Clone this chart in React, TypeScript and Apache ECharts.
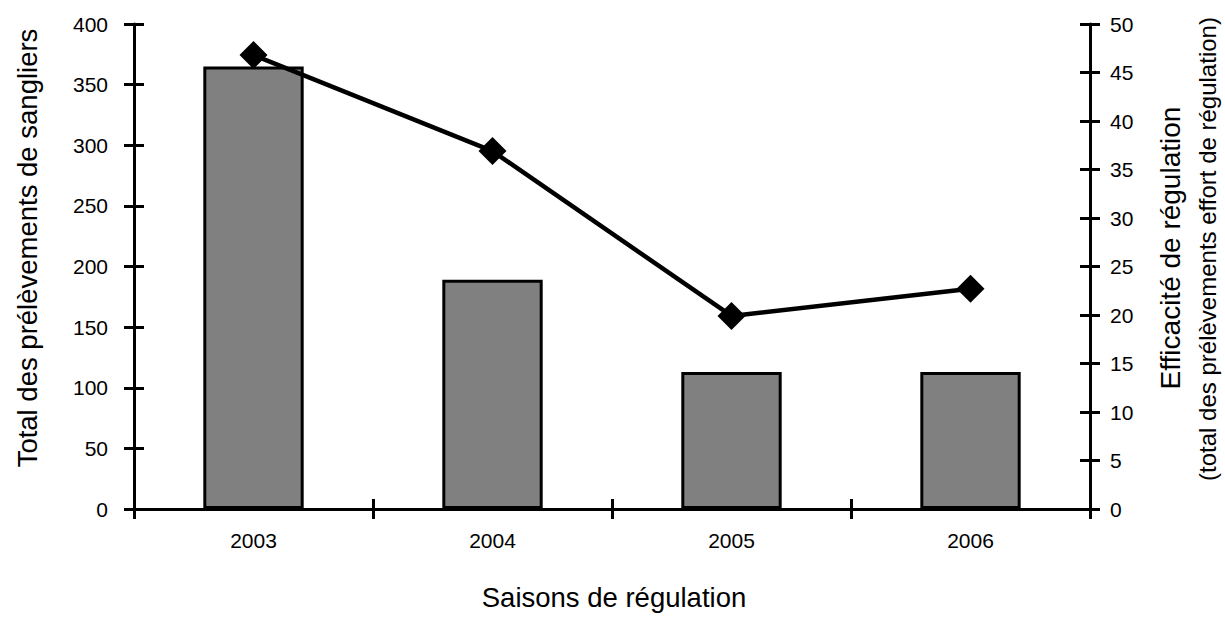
import React, { useEffect, useRef } from "react";
import * as echarts from "echarts";

const categories = ["2003", "2004", "2005", "2006"];
const totalPrelevements = [365, 189, 113, 113];
const efficacite = [46.8, 36.9, 19.9, 22.7];
const leftTitle = "Total des prélèvements de sangliers";
const rightTitle1 = "Efficacité de régulation";
const rightTitle2 = "(total des prélèvements effort de régulation)";
const xTitle = "Saisons de régulation";

const FONT = "'Liberation Sans', Arial, Helvetica, sans-serif";

export default function App() {
  const ref = useRef<HTMLDivElement>(null);
  useEffect(() => {
    if (!ref.current) return;
    const chart = echarts.init(ref.current, undefined, { renderer: "svg" });
    const lineStyle = { color: "#000", width: 3 };
    const tickStyle = { color: "#000", width: 3 };
    const label = { color: "#000", fontSize: 21, fontFamily: FONT };
    chart.setOption({
      animation: false,
      backgroundColor: "#fff",
      grid: { left: 134, right: 135, top: 24, bottom: 108, containLabel: false },
      xAxis: [
        {
          type: "category",
          data: categories,
          position: "bottom",
          axisLine: { show: true, lineStyle },
          axisTick: { show: true, length: 10, lineStyle: tickStyle },
          axisLabel: { ...label, margin: 21 },
          splitLine: { show: false },
        },
        {
          type: "category",
          data: categories,
          position: "bottom",
          axisLine: { show: false },
          axisTick: { show: true, inside: true, length: 10, lineStyle: tickStyle },
          axisLabel: { show: false },
          splitLine: { show: false },
        },
      ],
      yAxis: [
        {
          type: "value",
          min: 0,
          max: 400,
          interval: 50,
          position: "left",
          axisLine: { show: true, lineStyle },
          axisTick: { show: true, length: 10, lineStyle: tickStyle },
          axisLabel: { ...label, margin: 26 },
          splitLine: { show: false },
        },
        {
          type: "value",
          min: 0,
          max: 50,
          interval: 5,
          position: "right",
          axisLine: { show: true, lineStyle },
          axisTick: { show: true, length: 10, lineStyle: tickStyle },
          axisLabel: { ...label, margin: 20 },
          splitLine: { show: false },
        },
        {
          type: "value",
          min: 0,
          max: 400,
          interval: 50,
          position: "left",
          axisLine: { show: false },
          axisTick: { show: true, inside: true, length: 10, lineStyle: tickStyle },
          axisLabel: { show: false },
          splitLine: { show: false },
        },
        {
          type: "value",
          min: 0,
          max: 50,
          interval: 5,
          position: "right",
          axisLine: { show: false },
          axisTick: { show: true, inside: true, length: 10, lineStyle: tickStyle },
          axisLabel: { show: false },
          splitLine: { show: false },
        },
      ],
      graphic: [
        {
          type: "text",
          x: 27,
          y: 248,
          rotation: Math.PI / 2,
          style: { text: leftTitle, fill: "#000", font: `27.5px ${FONT}`, align: "center", verticalAlign: "middle" },
        },
        {
          type: "text",
          x: 1170,
          y: 248,
          rotation: Math.PI / 2,
          style: { text: rightTitle1, fill: "#000", font: `28px ${FONT}`, align: "center", verticalAlign: "middle" },
        },
        {
          type: "text",
          x: 1207,
          y: 249,
          rotation: Math.PI / 2,
          style: { text: rightTitle2, fill: "#000", font: `24px ${FONT}`, align: "center", verticalAlign: "middle" },
        },
        {
          type: "text",
          x: 614,
          y: 597,
          style: { text: xTitle, fill: "#000", font: `27.5px ${FONT}`, align: "center", verticalAlign: "middle" },
        },
      ],
      series: [
        {
          type: "bar",
          data: totalPrelevements,
          xAxisIndex: 0,
          yAxisIndex: 0,
          barWidth: "42%",
          itemStyle: { color: "#808080", borderColor: "#000", borderWidth: 3 },
          z: 2,
        },
        {
          type: "line",
          data: efficacite,
          xAxisIndex: 0,
          yAxisIndex: 1,
          symbol: "diamond",
          symbolSize: 28,
          lineStyle: { color: "#000", width: 4.5 },
          itemStyle: { color: "#000" },
          z: 5,
        },
      ],
    });
    return () => chart.dispose();
  }, []);
  return <div ref={ref} style={{ position: "fixed", left: 0, top: 0, width: 1225, height: 617 }} />;
}
